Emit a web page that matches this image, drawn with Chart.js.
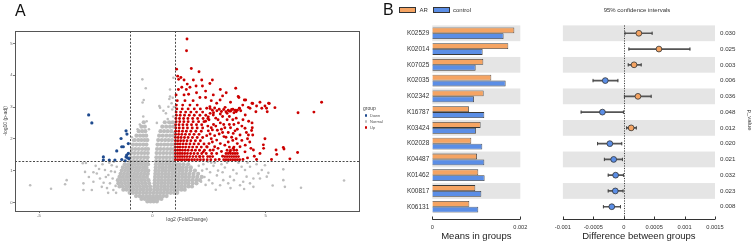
<!DOCTYPE html>
<html><head><meta charset="utf-8">
<script src="https://cdn.jsdelivr.net/npm/chart.js@4.4.1/dist/chart.umd.min.js"></script>
<style>
html,body{margin:0;padding:0;background:#fff;}
#wrap{position:relative;width:753px;height:243px;overflow:hidden;font-family:"Liberation Sans",Arial,sans-serif;}
canvas{position:absolute;top:0;}
.t{position:absolute;white-space:nowrap;line-height:1;color:#333;}
.box{position:absolute;box-sizing:border-box;border:1px solid #333;}
.dot{position:absolute;border-radius:50%;}
</style></head><body>
<div id="wrap">
<canvas id="cA" style="left:0" width="380" height="243"></canvas>
<canvas id="cB1" style="left:380px" width="170" height="243"></canvas>
<canvas id="cB2" style="left:545px" width="208" height="243"></canvas>

<div class="t" style="left:15px;top:2.5px;font-size:16px;color:#111">A</div>
<div class="t" style="left:383px;top:2px;font-size:16px;color:#111">B</div>

<div class="t" style="left:363px;top:105.5px;font-size:5px;color:#444">group</div>
<div class="dot" style="left:364.7px;top:114.2px;width:2.6px;height:2.6px;background:#1f4b8f"></div>
<div class="t" style="left:370px;top:113.5px;font-size:4px;color:#555">Down</div>
<div class="dot" style="left:364.7px;top:120.2px;width:2.6px;height:2.6px;background:#bdbdbd"></div>
<div class="t" style="left:370px;top:119.5px;font-size:4px;color:#555">Normal</div>
<div class="dot" style="left:364.7px;top:126.2px;width:2.6px;height:2.6px;background:#cc0000"></div>
<div class="t" style="left:370px;top:125.5px;font-size:4px;color:#555">Up</div>

<div class="box" style="left:399px;top:7px;width:17px;height:6px;background:#f5a463"></div>
<div class="t" style="left:419.5px;top:7px;font-size:6px">AR</div>
<div class="box" style="left:432.7px;top:7px;width:17.5px;height:6px;background:#5b8ee6"></div>
<div class="t" style="left:453px;top:7px;font-size:6px">control</div>

<div class="t" style="left:637px;top:7px;font-size:6px;transform:translateX(-50%)">95% confidence intervals</div>
</div>
<script>
// ================= Panel A : volcano plot =================
const volcanoXTicks = [-5, 0, 5];
const volcanoYTicks = [0, 1, 2, 3, 4, 5];
const foldChangeCutoffs = [-1, 1];
const padjCutoff = 0.05;

const downGenes = [[-2.81,2.75],[-2.67,2.50],[-1.16,2.25],[-1.12,2.15],[-1.38,2.01],[-1.06,1.85],[-1.35,1.75],[-1.28,1.75],[-1.57,1.62],[-1.06,1.54],[-1.13,1.49],[-2.16,1.43],[-1.16,1.43],[-1.09,1.40],[-1.03,1.38],[-1.35,1.35],[-1.90,1.33],[-2.16,1.33],[-1.65,1.33],[-1.20,1.31]];

const upGenes = [[1.53,5.14],[1.51,4.77],[1.72,4.21],[2.06,4.11],[1.07,4.19],[1.12,3.97],[1.26,3.93],[1.40,3.85],[1.16,3.87],[1.81,3.85],[2.18,3.85],[2.65,3.85],[2.54,3.74],[1.54,3.72],[1.66,3.62],[1.93,3.66],[2.21,3.66],[3.00,3.55],[3.26,3.45],[3.68,3.59],[2.69,3.38],[3.79,3.33],[4.12,3.22],[4.75,3.15],[5.13,3.12],[7.47,3.15],[6.43,2.82],[7.13,2.84],[5.41,2.98],[5.04,2.96],[4.60,3.03],[4.40,3.12],[4.24,2.99],[3.84,2.96],[3.65,2.90],[3.50,2.92],[3.40,2.87],[3.21,2.99],[2.99,3.22],[2.84,3.12],[2.54,3.01],[2.40,2.96],[2.69,2.75],[2.47,2.69],[3.82,3.30],[4.06,3.22],[3.99,3.06],[4.43,3.11],[5.16,3.11],[5.07,2.85],[4.31,2.96],[4.57,2.85],[4.83,2.96],[4.97,3.03],
[2.55,2.95],[2.65,2.90],[2.75,2.97],[2.85,2.88],[2.95,2.93],[3.05,2.86],[3.15,2.92],[3.25,2.85],[3.35,2.90],[3.45,2.87],[3.55,2.93],[3.60,2.82],[3.75,2.90],[3.85,2.95],[3.30,2.80],[3.00,2.78],[2.70,2.82],[3.70,2.85],[3.90,2.88],
[2.47,2.25],[2.87,2.27],[2.84,1.96],[3.16,2.07],[3.57,2.17],[3.87,2.12],[4.09,2.33],[4.41,2.35],[4.43,2.12],[4.24,2.12],[4.90,1.81],[4.97,2.00],[4.91,1.70],[5.46,1.65],[5.49,1.51],[5.78,1.73],[5.81,1.68],[6.41,1.57],[6.07,1.37],[5.26,1.35],[4.75,1.54],[4.46,1.65],[4.09,1.59],[3.87,1.75],[3.57,1.70],[3.43,1.59],[2.84,1.54],[2.69,1.65],[2.54,1.44],[2.40,1.75],[2.25,1.59],[2.10,1.44],[2.60,2.00],[3.00,1.85],[3.10,1.45],[2.95,1.35],[4.20,1.40],[4.00,1.35],[4.60,1.35],[4.30,1.90],[3.70,2.00],[2.70,2.45],[3.00,2.50],[3.30,2.60],[2.50,2.60],[3.60,2.45],[4.00,2.60],[4.40,2.50],[4.38,2.26],[3.05,2.30],[3.35,2.20],[3.20,1.80],[2.90,1.70],[3.05,1.60],[4.10,1.80],[4.50,1.45],[2.75,2.10],[2.60,2.35],[3.15,2.45],[3.45,2.35],[3.75,2.30],[2.40,2.10],
[2.35,2.55],[2.45,2.40],[2.55,2.15],[2.65,2.28],[2.80,2.40],[2.90,2.60],[2.95,2.15],[3.10,2.20],[3.20,2.35],[3.25,2.05],[3.40,2.45],[3.50,2.05],[3.55,2.60],[3.65,2.25],[3.80,2.50],[3.95,2.40],[4.15,2.20],[4.25,2.55],[2.50,1.85],[2.65,1.90],[2.75,1.75],[3.35,1.90],[3.55,1.95],[3.75,1.85],[3.95,1.95],[4.20,2.00],[4.35,1.70],[2.55,2.80],[2.80,2.65],[3.10,2.70],[3.40,2.70],[3.70,2.65],[4.10,2.75],[2.35,3.30],[2.60,3.20],[3.10,3.35],[3.45,3.15],[1.95,3.45],[2.35,3.50],[1.30,3.62],[1.60,3.40],[2.10,3.30]];

const upGenesDenseRows = [
 [1.34,[1.02,1.12,1.22,1.32,1.42,1.52,1.62,1.74,1.86,1.99,2.12,2.26,2.42,2.58,2.78,3.15,3.25,3.35,3.45,3.55,3.65,3.75,3.85]],
 [1.44,[1.02,1.12,1.22,1.32,1.42,1.53,1.65,1.79,1.93,2.08,2.24,2.44,2.66,3.2,3.3,3.4,3.5,3.6,3.7,3.8]],
 [1.54,[1.02,1.12,1.22,1.32,1.43,1.55,1.69,1.84,2.0,2.18,2.38,2.62,3.25,3.35,3.45,3.55,3.65,3.75]],
 [1.64,[1.02,1.12,1.22,1.33,1.45,1.58,1.74,1.9,2.08,2.3,2.55,3.3,3.45,3.6,3.72]],
 [1.74,[1.02,1.12,1.22,1.34,1.47,1.62,1.78,1.96,2.16,2.42,3.4,3.6]],
 [1.84,[1.02,1.12,1.23,1.36,1.5,1.66,1.84,2.04,2.28]],
 [1.94,[1.02,1.13,1.25,1.38,1.53,1.7,1.9,2.12]],
 [2.04,[1.02,1.14,1.27,1.42,1.58,1.77,1.98,2.22]],
 [2.14,[1.03,1.16,1.3,1.46,1.64,1.84,2.06]],
 [2.24,[1.03,1.17,1.33,1.5,1.7,1.92,2.16]],
 [2.34,[1.04,1.19,1.36,1.55,1.76,1.98,2.22]],
 [2.44,[1.03,1.18,1.35,1.53,1.73,1.95,2.18]],
 [2.54,[1.05,1.21,1.39,1.58,1.8,2.04,2.28]],
 [2.64,[1.04,1.2,1.38,1.57,1.78,2.0,2.24,2.45]],
 [2.74,[1.06,1.23,1.42,1.63,1.85,2.1,2.36]],
 [2.84,[1.05,1.25,1.47,1.7,1.95,2.22]],
 [2.94,[1.08,1.32,1.58,1.85,2.12]],
 [3.06,[1.06,1.34,1.66,1.98]],
 [3.2,[1.1,1.44,1.8]],
 [3.38,[1.05,1.4]],
 [3.55,[1.15,1.5]]
];

const normalGenes = [[-5.39,0.54],[-4.47,0.43],[-3.78,0.70],[-3.85,0.57],[-3.07,1.23],[-2.93,1.24],[-2.97,0.96],[-3.04,0.60],[-3.04,0.39],[-2.67,0.39],[-2.60,0.65],[-2.45,0.91],[-2.31,0.75],[-2.23,0.49],[-2.09,1.02],[-1.94,0.86],[-1.79,1.17],[-1.87,0.60],[-1.72,0.39],[-1.65,0.96],[-1.57,1.12],[-2.20,1.20],[-1.90,1.25],[-2.50,1.15],[-1.75,0.75],[-2.00,0.45],[-1.60,0.30],[-2.80,0.80],[-2.35,1.05],[-1.70,1.28],[-2.15,0.62],[-1.82,0.98],[-2.60,0.95],[-2.05,0.80],[-1.62,0.52],[-1.95,0.30],
[-0.44,3.87],[-0.29,3.59],[-0.43,3.14],[-0.38,3.22],[0.31,3.03],[0.49,2.88],[0.75,3.25],[0.78,3.33],[0.85,3.12],[0.71,3.01],[-0.40,2.70],[-0.25,2.55],[0.60,2.80],[0.88,2.92],[0.93,3.92],[0.78,3.55],[0.90,3.29],[0.34,2.98],[-0.55,2.45],[-0.65,2.30],[0.68,2.62],[0.92,2.70],[-0.15,2.30],[0.20,2.50],[0.95,3.00],[0.82,2.50],[-0.90,2.05],[-0.85,1.95],[0.97,2.20],
[2.25,1.20],[2.40,1.05],[2.55,0.95],[2.70,1.15],[2.85,0.85],[2.30,0.80],[2.50,0.70],[2.65,0.60],[2.90,1.00],[3.05,1.20],[3.13,0.70],[2.99,0.54],[3.35,0.60],[3.43,0.81],[3.57,1.02],[3.72,0.91],[3.87,0.54],[3.94,1.12],[4.01,0.65],[4.09,1.02],[4.16,0.81],[4.31,1.12],[4.31,0.60],[4.46,0.75],[4.46,0.49],[4.68,0.91],[4.75,0.75],[4.83,1.02],[4.97,1.17],[5.05,0.81],[5.12,0.93],[5.31,0.53],[5.78,1.04],[5.78,0.70],[5.85,0.49],[6.56,0.46],[8.46,0.69],[2.20,1.00],[2.35,0.55],[2.60,1.25],[2.80,0.40],[3.20,1.10],[3.60,0.70],[2.75,1.25],[2.45,1.28],[3.10,0.95],[3.30,1.25],[2.15,0.65],[2.05,1.15],[3.80,1.25],[4.20,1.25],[4.60,1.20],[3.45,0.45],[4.05,0.42]];

const normalDenseRows = [
 [0.03,[-0.22,-0.08,0.06,0.2]],
 [0.11,[-0.48,-0.33,-0.18,-0.04,0.1,0.25,0.4]],
 [0.2,[-0.72,-0.57,-0.42,-0.27,-0.12,0.03,0.18,0.33,0.48,0.63]],
 [0.3,[-1.0,-0.85,-0.7,-0.55,-0.4,-0.25,-0.1,0.06,0.21,0.36,0.51,0.66,0.81,0.96,1.1]],
 [0.4,[-1.28,-1.13,-0.98,-0.83,-0.68,-0.53,-0.38,-0.23,-0.09,0.08,0.23,0.38,0.53,0.68,0.83,0.98,1.13,1.28,1.43]],
 [0.5,[-1.45,-1.3,-1.15,-1.0,-0.85,-0.7,-0.55,-0.4,-0.25,-0.1,0.09,0.24,0.39,0.54,0.69,0.84,0.99,1.14,1.29,1.44,1.6,1.75]],
 [0.6,[-1.5,-1.35,-1.2,-1.05,-0.9,-0.75,-0.6,-0.45,-0.3,-0.14,0.1,0.25,0.4,0.55,0.7,0.85,1.0,1.15,1.3,1.45,1.6,1.78,1.95]],
 [0.7,[-1.52,-1.38,-1.23,-1.08,-0.93,-0.78,-0.63,-0.48,-0.33,-0.17,0.11,0.26,0.41,0.56,0.71,0.86,1.01,1.16,1.31,1.46,1.61,1.77,1.94,2.1]],
 [0.8,[-1.45,-1.3,-1.15,-1.0,-0.85,-0.7,-0.55,-0.4,-0.24,0.12,0.27,0.42,0.57,0.72,0.87,1.02,1.17,1.32,1.47,1.62,1.8,1.98,2.18]],
 [0.9,[-1.4,-1.25,-1.1,-0.95,-0.8,-0.65,-0.5,-0.35,-0.2,0.13,0.28,0.43,0.58,0.73,0.88,1.03,1.18,1.33,1.48,1.64,1.82,2.02]],
 [1.0,[-1.35,-1.2,-1.05,-0.9,-0.75,-0.6,-0.45,-0.3,-0.18,0.14,0.29,0.44,0.59,0.74,0.89,1.04,1.19,1.34,1.5,1.68,1.88]],
 [1.1,[-1.3,-1.15,-1.0,-0.85,-0.7,-0.55,-0.4,-0.26,0.15,0.3,0.45,0.6,0.75,0.9,1.05,1.2,1.35,1.52,1.7]],
 [1.2,[-1.22,-1.07,-0.92,-0.77,-0.62,-0.47,-0.32,-0.19,0.16,0.31,0.46,0.61,0.76,0.91,1.06,1.21,1.38,1.58]],
 [1.3,[-0.98,-0.83,-0.68,-0.53,-0.38,-0.22,0.17,0.32,0.47,0.62,0.77,0.92]],
 [1.42,[-0.95,-0.8,-0.65,-0.5,-0.35,-0.21,0.18,0.33,0.48,0.63,0.78,0.93]],
 [1.55,[-0.93,-0.78,-0.63,-0.48,-0.34,-0.2,0.19,0.34,0.49,0.64,0.79,0.94]],
 [1.68,[-0.9,-0.75,-0.6,-0.45,-0.31,-0.19,0.21,0.36,0.51,0.66,0.81,0.95]],
 [1.82,[-0.85,-0.7,-0.55,-0.4,-0.26,0.23,0.38,0.53,0.68,0.83,0.96]],
 [1.96,[-0.78,-0.62,-0.48,-0.34,-0.22,0.26,0.42,0.57,0.72,0.87]],
 [2.1,[-0.7,-0.54,-0.4,-0.27,0.3,0.46,0.62,0.78,0.93]],
 [2.24,[-0.6,-0.45,-0.31,0.36,0.52,0.68,0.84]],
 [2.38,[-0.48,-0.33,0.44,0.61,0.78,0.94]],
 [2.52,[-0.38,0.55,0.74,0.9]]
];

// ================= Panel B : extended error bar =================
const categories = ['K02529','K02014','K07025','K02035','K02342','K16787','K03424','K02028','K04487','K01462','K00817','K06131'];
const arMeans = [0.001864,0.001727,0.001159,0.001341,0.001167,0.000833,0.001098,0.000886,0.001015,0.001045,0.000977,0.000841];
const controlMeans = [0.001620,0.001144,0.000985,0.001667,0.000947,0.001182,0.000992,0.001136,0.001182,0.001189,0.001114,0.001045];
const diffs = [0.000249,0.000579,0.000170,-0.000303,0.000234,-0.000350,0.000122,-0.000228,-0.000165,-0.000133,-0.000138,-0.000196];
const ciLow = [0.000021,0.000085,0.000074,-0.000504,0.000011,-0.000700,0.000048,-0.000430,-0.000318,-0.000255,-0.000255,-0.000334];
const ciHigh = [0.000467,0.001088,0.000287,-0.000096,0.000451,-0.000005,0.000207,-0.000032,-0.000021,-0.000005,-0.000011,-0.000053];
const pValues = ['0.030','0.025','0.003','0.006','0.036','0.048','0.012','0.020','0.021','0.032','0.023','0.008'];
const meansTicks = [0, 0.002];
const meansTickLabels = ['0', '0.002'];
const diffTicks = [-0.001, -0.0005, 0, 0.0005, 0.001, 0.0015];
const diffTickLabels = ['-0.001', '-0.0005', '0', '0.0005', '0.001', '0.0015'];

const ORANGE = '#f5a463', BLUE = '#5b8ee6';
const FONT = '"Liberation Sans", Arial, sans-serif';
Chart.defaults.font.family = FONT;

const pairsToPoints = arr => arr.map(([x, y]) => ({x, y}));
const rowsToPoints = rows => rows.flatMap(([y, xs]) => xs.map(x => ({x, y})));

const framePlugin = {
  id: 'frame',
  afterDraw(chart) {
    const {ctx, chartArea: a} = chart;
    ctx.save(); ctx.strokeStyle = '#555'; ctx.lineWidth = 1;
    ctx.strokeRect(Math.round(a.left) + 0.5, Math.round(a.top) + 0.5, Math.round(a.right - a.left), Math.round(a.bottom - a.top));
    ctx.restore();
  }
};
const cutoffPlugin = {
  id: 'cutoffs',
  afterDatasetsDraw(chart) {
    const {ctx, chartArea: a, scales: {x, y}} = chart;
    ctx.save(); ctx.strokeStyle = '#333'; ctx.lineWidth = 0.9; ctx.setLineDash([2, 1.6]);
    foldChangeCutoffs.forEach(c => {
      const px = Math.round(x.getPixelForValue(c)) + 0.5;
      ctx.beginPath(); ctx.moveTo(px, a.top); ctx.lineTo(px, a.bottom); ctx.stroke();
    });
    const py = Math.round(y.getPixelForValue(-Math.log10(padjCutoff))) + 0.5;
    ctx.beginPath(); ctx.moveTo(a.left, py); ctx.lineTo(a.right, py); ctx.stroke();
    ctx.restore();
  }
};

new Chart(document.getElementById('cA'), {
  type: 'scatter',
  data: { datasets: [
    {label: 'Up', data: [...pairsToPoints(upGenes), ...rowsToPoints(upGenesDenseRows)], pointRadius: 1.45, pointBackgroundColor: '#cc0000', pointBorderWidth: 0},
    {label: 'Down', data: pairsToPoints(downGenes), pointRadius: 1.6, pointBackgroundColor: '#1f4b8f', pointBorderWidth: 0},
    {label: 'Normal', data: pairsToPoints(normalGenes), pointRadius: 1.3, pointBackgroundColor: '#bdbdbd', pointBorderWidth: 0},
    {label: 'Normal', data: rowsToPoints(normalDenseRows), pointRadius: 2.1, pointBackgroundColor: '#bdbdbd', pointBorderWidth: 0}
  ]},
  options: {
    responsive: false, animation: false, events: [],
    layout: {padding: {left: 0, top: 31, right: 21, bottom: 0}},
    plugins: {legend: {display: false}, tooltip: {enabled: false}},
    scales: {
      x: {type: 'linear', min: -6.06, max: 9.12,
        afterBuildTicks: s => { s.ticks = volcanoXTicks.map(v => ({value: v})); },
        afterFit: s => { s.height = 32; },
        grid: {display: true, drawOnChartArea: false, drawTicks: true, tickLength: 2, color: '#555', lineWidth: 0.8},
        border: {display: false},
        ticks: {font: {size: 4.2}, color: '#666', padding: 0.5, maxRotation: 0, autoSkip: false, callback: v => String(v)},
        title: {display: true, text: 'log2 (FoldChange)', font: {size: 5}, color: '#444', padding: {top: 0, bottom: 20}}},
      y: {type: 'linear', min: -0.27, max: 5.39,
        afterBuildTicks: s => { s.ticks = volcanoYTicks.map(v => ({value: v})); },
        afterFit: s => { s.width = 15; },
        grid: {display: true, drawOnChartArea: false, drawTicks: true, tickLength: 2, color: '#555', lineWidth: 0.8},
        border: {display: false},
        ticks: {font: {size: 4.2}, color: '#666', padding: 0.5, autoSkip: false, callback: v => String(v)},
        title: {display: true, text: '-log10 (p-adj)', font: {size: 5}, color: '#444', padding: {top: 3, bottom: 0}}}
    }
  },
  plugins: [cutoffPlugin, framePlugin]
});

const bandPlugin = {
  id: 'bands',
  beforeDatasetsDraw(chart) {
    const {ctx, chartArea: a, scales: {y}} = chart;
    const step = (a.bottom - a.top) / categories.length;
    ctx.save(); ctx.fillStyle = '#e5e5e5';
    categories.forEach((c, i) => {
      if (i % 2 === 0) { const cy = y.getPixelForValue(i); ctx.fillRect(a.left, cy - step / 2, a.right - a.left, step); }
    });
    ctx.restore();
  }
};
const offsetAxisPlugin = {
  id: 'offsetAxis',
  afterDraw(chart) {
    const {ctx, scales: {x}} = chart;
    const yy = Math.round(x.top + 4.5) + 0.5;
    ctx.save(); ctx.strokeStyle = '#333'; ctx.lineWidth = 1;
    ctx.beginPath();
    ctx.moveTo(x.getPixelForValue(x.min), yy); ctx.lineTo(x.getPixelForValue(x.max), yy);
    x.ticks.forEach(t => { const px = Math.round(x.getPixelForValue(t.value)) + 0.5; ctx.moveTo(px, yy); ctx.lineTo(px, yy - 3); });
    ctx.stroke(); ctx.restore();
  }
};
const zeroLinePlugin = {
  id: 'zeroLine',
  beforeDatasetsDraw(chart) {
    const {ctx, chartArea: a, scales: {x}} = chart;
    const px = Math.round(x.getPixelForValue(0)) + 0.5;
    ctx.save(); ctx.strokeStyle = '#444'; ctx.lineWidth = 1; ctx.setLineDash([1.2, 1.3]);
    ctx.beginPath(); ctx.moveTo(px, a.top); ctx.lineTo(px, x.top + 4.5); ctx.stroke(); ctx.restore();
  }
};

new Chart(document.getElementById('cB1'), {
  type: 'bar',
  data: {labels: categories, datasets: [
    {label: 'AR', data: arMeans, backgroundColor: ORANGE, borderColor: '#3a3a3a', borderWidth: 0.8},
    {label: 'control', data: controlMeans, backgroundColor: BLUE, borderColor: '#3a3a3a', borderWidth: 0.8}
  ]},
  options: {
    indexAxis: 'y', responsive: false, animation: false, events: [],
    layout: {padding: {left: 0, top: 25.4, right: 29.7, bottom: 0}},
    datasets: {bar: {categoryPercentage: 0.74, barPercentage: 1.0}},
    plugins: {legend: {display: false}, tooltip: {enabled: false}},
    scales: {
      x: {type: 'linear', min: 0, max: 0.002,
        afterBuildTicks: s => { s.ticks = meansTicks.map(v => ({value: v})); },
        afterFit: s => { s.height = 28.4; },
        grid: {display: false, drawTicks: false}, border: {display: false},
        ticks: {font: {size: 5.6}, color: '#333', padding: 9.8, maxRotation: 0, autoSkip: false, callback: (v, i) => meansTickLabels[i]},
        title: {display: true, text: 'Means in groups', font: {size: 9.5}, color: '#222', padding: {top: 0, bottom: 1}}},
      y: {type: 'category', afterFit: s => { s.width = 52.3; },
        grid: {display: false, drawTicks: false}, border: {display: false},
        ticks: {font: {size: 6.5}, color: '#333', padding: 3, autoSkip: false}}
    }
  },
  plugins: [bandPlugin, offsetAxisPlugin]
});

new Chart(document.getElementById('cB2'), {
  type: 'bar',
  data: {labels: categories, datasets: [
    {type: 'line', indexAxis: 'y', label: 'difference', data: diffs.map((d, i) => ({x: d, y: categories[i]})), showLine: false,
      pointRadius: 2.9, pointHoverRadius: 2.9, pointBackgroundColor: diffs.map(d => d > 0 ? ORANGE : BLUE), pointBorderColor: '#333', pointBorderWidth: 0.8},
    {type: 'line', indexAxis: 'y', label: 'ciLow', data: ciLow.map((d, i) => ({x: d, y: categories[i]})), showLine: false,
      pointStyle: 'line', rotation: 90, pointRadius: 1.7, pointBorderColor: '#444', pointBorderWidth: 1},
    {type: 'line', indexAxis: 'y', label: 'ciHigh', data: ciHigh.map((d, i) => ({x: d, y: categories[i]})), showLine: false,
      pointStyle: 'line', rotation: 90, pointRadius: 1.7, pointBorderColor: '#444', pointBorderWidth: 1},
    {type: 'bar', indexAxis: 'y', label: 'ci', data: ciLow.map((l, i) => [l, ciHigh[i]]), backgroundColor: '#555', barThickness: 1}
  ]},
  options: {
    indexAxis: 'y', responsive: false, animation: false, events: [],
    layout: {padding: {left: 14.3, top: 25.4, right: 0, bottom: 0}},
    plugins: {legend: {display: false}, tooltip: {enabled: false}},
    scales: {
      x: {type: 'linear', min: -0.001, max: 0.0015,
        afterBuildTicks: s => { s.ticks = diffTicks.map(v => ({value: v})); },
        afterFit: s => { s.height = 28.4; },
        grid: {display: false, drawTicks: false}, border: {display: false},
        ticks: {font: {size: 5.7}, color: '#333', padding: 9.8, maxRotation: 0, autoSkip: false, callback: (v, i) => diffTickLabels[i]},
        title: {display: true, text: 'Difference between groups', font: {size: 9.5}, color: '#222', padding: {top: 0, bottom: 1}}},
      y: {type: 'category', position: 'right', afterFit: s => { s.width = 38; },
        grid: {display: false, drawTicks: false}, border: {display: false},
        ticks: {font: {size: 6.2}, color: '#333', padding: 5, autoSkip: false, callback: (v, i) => pValues[i]},
        title: {display: true, text: 'p_value', font: {size: 6}, color: '#333', padding: {top: 0, bottom: 0}}}
    }
  },
  plugins: [bandPlugin, zeroLinePlugin, offsetAxisPlugin]
});
</script>
</body></html>
